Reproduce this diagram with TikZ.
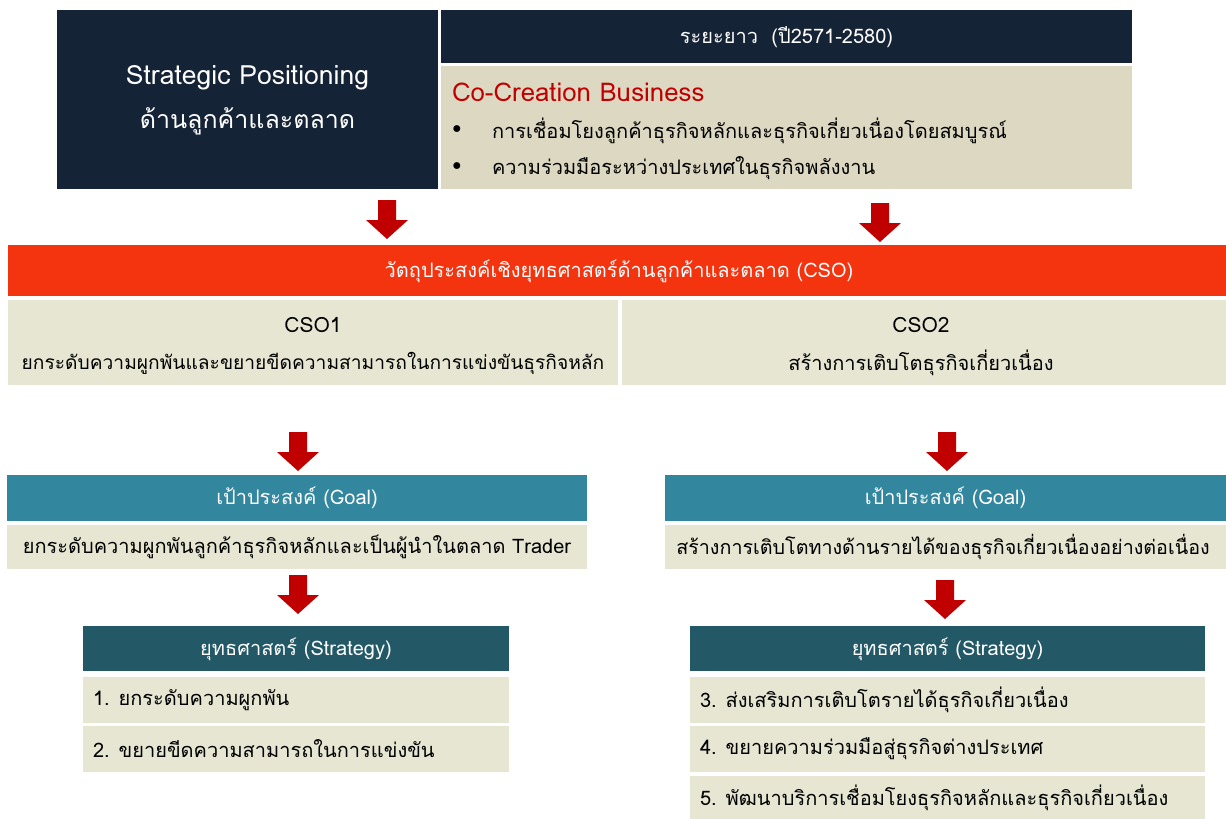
\documentclass[tikz,border=0pt]{standalone}
\usepackage{fontspec}
\setmainfont[Script=Thai]{Loma}
\usetikzlibrary{positioning}
\definecolor{navy}{HTML}{152336}
\definecolor{sand}{HTML}{DDD8C1}
\definecolor{lightsand}{HTML}{E7E6D2}
\definecolor{darkred}{HTML}{C00000}
\definecolor{bandred}{HTML}{F4330F}
\definecolor{goalteal}{HTML}{32869E}
\definecolor{stratteal}{HTML}{235867}
\tikzset{
  box/.style={draw=none, inner sep=0pt, outer sep=0pt},
  txt/.style={inner sep=0pt, outer sep=0pt, font=\fontsize{20}{24}\selectfont},
  wtxt/.style={txt, text=white},
  blockarrow/.style={fill=darkred, draw=none}
}
\newcommand\blockdown[3]{% name, x, ytop
  \coordinate (#1) at (#2,#3);
  \fill[blockarrow] (#2-9,#3) -- (#2+9,#3) -- (#2+9,#3+20) -- (#2+21,#3+20) -- (#2,#3+39) -- (#2-21,#3+20) -- (#2-9,#3+20) -- cycle;
}
\begin{document}
\begin{tikzpicture}[x=1pt,y=-1pt]
\useasboundingbox (0,0) rectangle (1226,819);
% top row
\node[box, fill=navy, minimum width=381, minimum height=179] (sp) at (247.5,99.5) {};
\node[wtxt, font=\fontsize{26.5}{30}\selectfont] (spt1) at (247.5,78) {Strategic Positioning};
\node[wtxt, font=\fontsize{25}{30}\selectfont] (spt2) at (247.5,121) {ด้านลูกค้าและตลาด};
\node[box, fill=navy, minimum width=691, minimum height=53] (lt) at (786.5,36.5) {};
\node[wtxt] (ltt) at (786.5,37) {ระยะยาว\ \ (ปี2571-2580)};
\node[box, fill=sand, minimum width=691, minimum height=123] (cc) at (786.5,127.5) {};
\node[txt, text=darkred, anchor=west, font=\fontsize{25.8}{30}\selectfont] (cct) at (452,92) {Co-Creation Business};
\node[txt, anchor=center] (b1) at (457,131) {•};
\node[txt, anchor=west] (cc1) at (492,131) {การเชื่อมโยงลูกค้าธุรกิจหลักและธุรกิจเกี่ยวเนื่องโดยสมบูรณ์};
\node[txt, anchor=center] (b2) at (457,168) {•};
\node[txt, anchor=west] (cc2) at (492,168) {ความร่วมมือระหว่างประเทศในธุรกิจพลังงาน};
\blockdown{a1}{387}{200}
\blockdown{a2}{880}{203}
% CSO band
\node[box, fill=bandred, minimum width=1218, minimum height=51] (cso) at (617,270.5) {};
\node[wtxt] (csot) at (619,271) {วัตถุประสงค์เชิงยุทธศาสตร์ด้านลูกค้าและตลาด (CSO)};
\node[box, fill=lightsand, minimum width=610, minimum height=85] (c1) at (313,342.5) {};
\node[txt, font=\fontsize{21}{24}\selectfont] (c1a) at (313,325) {CSO1};
\node[txt, font=\fontsize{19.2}{24}\selectfont] (c1b) at (313,363) {ยกระดับความผูกพันและขยายขีดความสามารถในการแข่งขันธุรกิจหลัก};
\node[box, fill=lightsand, minimum width=604, minimum height=85] (c2) at (924,342.5) {};
\node[txt, font=\fontsize{21}{24}\selectfont] (c2a) at (921,325) {CSO2};
\node[txt] (c2b) at (921,363) {สร้างการเติบโตธุรกิจเกี่ยวเนื่อง};
\blockdown{a3}{298}{432}
\blockdown{a4}{947}{432}
% left goal
\node[box, fill=goalteal, minimum width=580, minimum height=46] (gl) at (297,498) {};
\node[wtxt] (glt) at (297,498) {เป้าประสงค์ (Goal)};
\node[box, fill=lightsand, minimum width=580, minimum height=44] (glb) at (297,547) {};
\node[txt] (glbt) at (297,547) {ยกระดับความผูกพันลูกค้าธุรกิจหลักและเป็นผู้นำในตลาด Trader};
\blockdown{a5}{298}{575}
\node[box, fill=stratteal, minimum width=426, minimum height=45] (sl) at (296,648.5) {};
\node[wtxt] (slt) at (296,649) {ยุทธศาสตร์ (Strategy)};
\node[box, fill=lightsand, minimum width=426, minimum height=46] (sl1) at (296,700) {};
\node[txt, anchor=west] (sl1t) at (93,700) {1. ยกระดับความผูกพัน};
\node[box, fill=lightsand, minimum width=426, minimum height=46] (sl2) at (296,749) {};
\node[txt, anchor=west] (sl2t) at (93,749) {2. ขยายขีดความสามารถในการแข่งขัน};
% right goal
\node[box, fill=goalteal, minimum width=561, minimum height=46] (gr) at (945.5,498) {};
\node[wtxt] (grt) at (945.5,498) {เป้าประสงค์ (Goal)};
\node[box, fill=lightsand, minimum width=561, minimum height=44] (grb) at (945.5,547) {};
\node[txt, font=\fontsize{19.7}{24}\selectfont] (grbt) at (943,547) {สร้างการเติบโตทางด้านรายได้ของธุรกิจเกี่ยวเนื่องอย่างต่อเนื่อง};
\blockdown{a6}{945}{580}
\node[box, fill=stratteal, minimum width=515, minimum height=45] (sr) at (947.5,648.5) {};
\node[wtxt] (srt) at (947.5,649) {ยุทธศาสตร์ (Strategy)};
\node[box, fill=lightsand, minimum width=515, minimum height=46] (sr1) at (947.5,700) {};
\node[txt, anchor=west] (sr1t) at (700,700) {3. ส่งเสริมการเติบโตรายได้ธุรกิจเกี่ยวเนื่อง};
\node[box, fill=lightsand, minimum width=515, minimum height=46] (sr2) at (947.5,749) {};
\node[txt, anchor=west] (sr2t) at (700,749) {4. ขยายความร่วมมือสู่ธุรกิจต่างประเทศ};
\node[box, fill=lightsand, minimum width=515, minimum height=43] (sr3) at (947.5,797.5) {};
\node[txt, anchor=west] (sr3t) at (700,798) {5. พัฒนาบริการเชื่อมโยงธุรกิจหลักและธุรกิจเกี่ยวเนื่อง};
\end{tikzpicture}
\end{document}
